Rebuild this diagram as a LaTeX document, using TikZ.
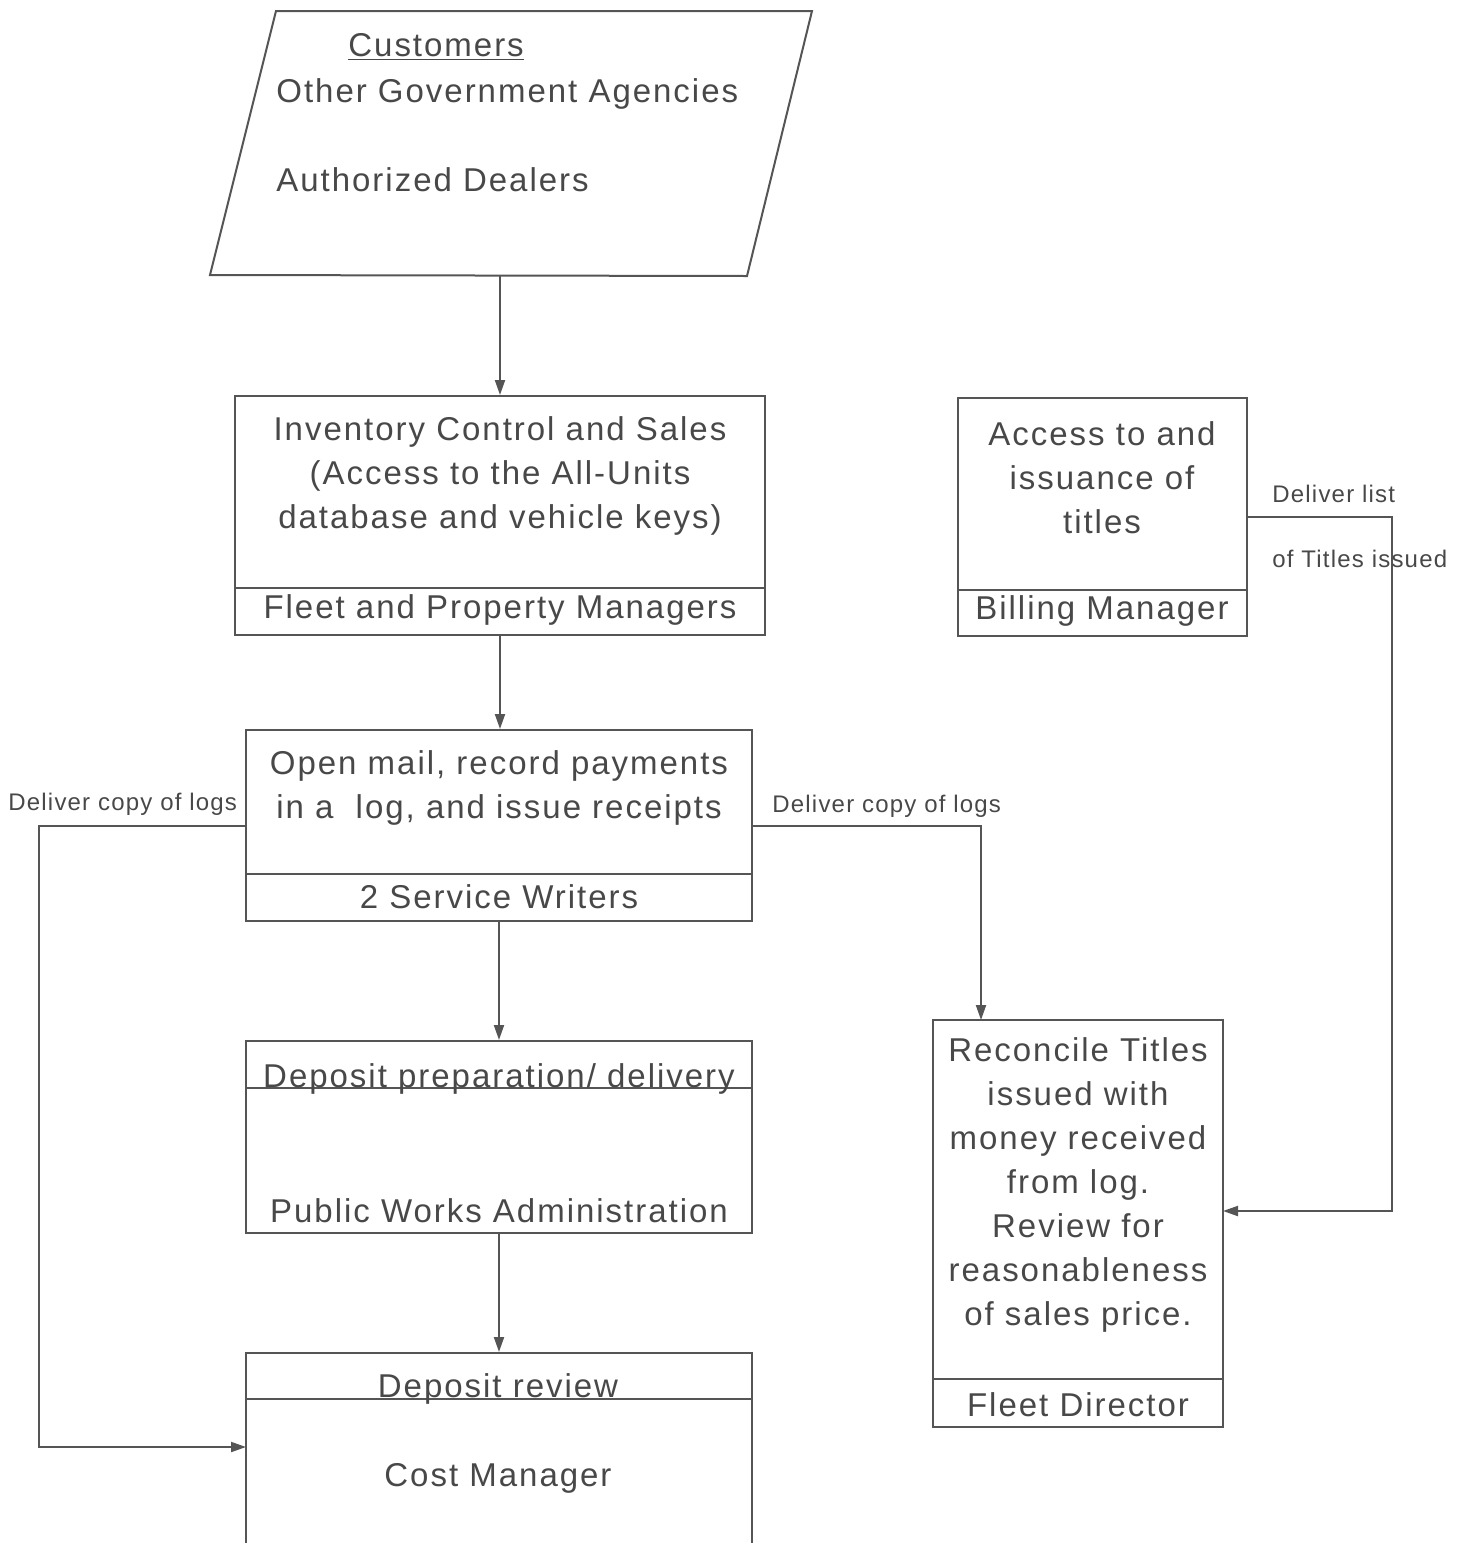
\documentclass[tikz,border=0pt]{standalone}
\usepackage{fontspec}
\setmainfont{Liberation Sans}[LetterSpace=6]
\newfontfamily\labfont{Liberation Sans}[LetterSpace=5]
\usetikzlibrary{arrows.meta}
\definecolor{ln}{HTML}{555555}
\definecolor{txt}{HTML}{484848}
\begin{document}
\begin{tikzpicture}[x=0.5pt,y=-0.5pt,
  line/.style={draw=ln,line width=1pt},
  arr/.style={line,-{Triangle[length=7.5pt,width=5pt]}},
  boxnode/.style={line,rectangle,inner sep=0pt},
  big/.style={inner sep=0pt,text=txt,font=\fontsize{16.5}{22}\selectfont,align=center},
  lab/.style={inner sep=0pt,text=txt,font=\labfont\fontsize{12}{14}\selectfont}]
\useasboundingbox (0,0) rectangle (1462,1543);
% source parallelogram
\draw[line] (276,11) -- (812,11) -- (747,276) -- (210,275) -- cycle;
\coordinate (src) at (500,276);
\node[big,anchor=base west] (cust) at (348,56) {\underline{Customers}};
\node[big,anchor=base west] (oga) at (276,102) {Other Government Agencies};
\node[big,anchor=base west] (ad) at (276,191) {Authorized Dealers};
% boxes
\node[boxnode,minimum width=265pt,minimum height=119.5pt] (inv) at (500,515.5) {};
\draw[line] (inv.west |- 0,588) -- (inv.east |- 0,588);
\node[big] (invt) at (500,476) {Inventory Control and Sales\\(Access to the All-Units\\database and vehicle keys)};
\node[big] (invr) at (500,610) {Fleet and Property Managers};

\node[boxnode,minimum width=253pt,minimum height=95.5pt] (mail) at (499,825.5) {};
\draw[line] (mail.west |- 0,874) -- (mail.east |- 0,874);
\node[big] (mailt) at (499,788) {Open mail, record payments\\in a\ \ log, and issue receipts};
\node[big] (mailr) at (499,897) {2 Service Writers};

\node[boxnode,minimum width=253pt,minimum height=96pt] (dep) at (499,1137) {};
\draw[line] (dep.west |- 0,1088) -- (dep.east |- 0,1088);
\node[big,anchor=base] (dept) at (499,1087) {Deposit preparation/ delivery};
\node[big] (depr) at (499,1211) {Public Works Administration};

\node[boxnode,minimum width=253pt,minimum height=123.5pt] (rev) at (499,1476.5) {};
\draw[line] (rev.west |- 0,1399) -- (rev.east |- 0,1399);
\node[big,anchor=base] (revt) at (498,1397) {Deposit review};
\node[big] (revr) at (498,1478) {Cost Manager};

\node[boxnode,minimum width=144.5pt,minimum height=119pt] (bill) at (1102.5,517) {};
\draw[line] (bill.west |- 0,590) -- (bill.east |- 0,590);
\node[big] (billt) at (1102,478) {Access to and\\issuance of\\titles};
\node[big] (billr) at (1102,611) {Billing Manager};

\node[boxnode,minimum width=145pt,minimum height=203.5pt] (fleet) at (1078,1223.5) {};
\draw[line] (fleet.west |- 0,1379) -- (fleet.east |- 0,1379);
\node[big] (fleett) at (1078,1185) {Reconcile Titles\\issued with\\money received\\from log.\\Review for\\reasonableness\\of sales price.};
\node[big] (fleetr) at (1078,1405) {Fleet Director};

% connector end points
\coordinate (revin) at (246,1447);
\coordinate (fleetin) at (981,1020);
\coordinate (fleetside) at (1223,1211);

% connectors
\draw[arr] (src) -- (inv.north);
\draw[arr] (inv.south) -- (inv.south |- mail.north);
\draw[arr] (mail.south) -- (dep.north);
\draw[arr] (dep.south) -- (rev.north);
\draw[arr] (mail.west) -- ++(-206,0) |- (revin);
\draw[arr] (mail.east) -| (fleetin);
\draw[arr] (bill.east) -- ++(144,0) |- (fleetside);

% labels
\node[lab,anchor=base west] (l1) at (8,810) {Deliver copy of logs};
\node[lab,anchor=base west] (l2) at (772,812) {Deliver copy of logs};
\node[lab,anchor=base west] (l3) at (1272,502) {Deliver list};
\node[lab,anchor=base west] (l4) at (1272,567) {of Titles issued};
\end{tikzpicture}
\end{document}
